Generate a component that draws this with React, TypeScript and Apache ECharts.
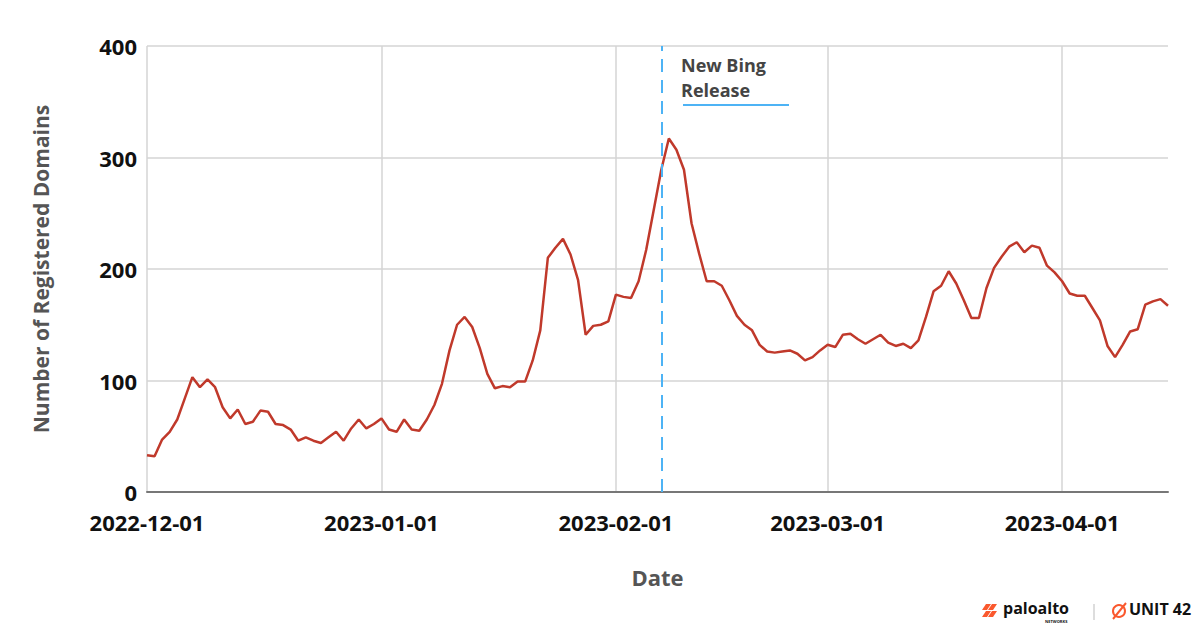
import React, { useEffect, useRef } from 'react';
import * as echarts from 'echarts';

// daily counts, starting 2022-12-01
const START_DATE = '2022-12-01';
const domainCounts = [
  33, 32, 47, 54, 65, 84, 103, 94, 101, 94, 76, 66, 74, 61, 63, 73, 72, 61, 60, 56,
  46, 49, 46, 44, 49, 54, 46, 57, 65, 57, 61, 66, 56, 54,
  65, 56, 55, 65, 78, 97, 127, 150, 157, 148, 129, 106, 93, 95, 94, 99, 99, 118,
  145, 210, 219, 227, 213, 190, 141, 149, 150, 153,
  177, 175, 174, 189, 217, 253, 289, 317, 307, 289, 241, 214, 189, 189, 185, 172,
  158, 150, 145, 132, 126, 125, 126, 127, 124, 118, 121, 127, 132, 130,
  141, 142, 137, 133, 137, 141, 134, 131, 133, 129, 136, 157, 180, 185, 198, 187,
  172, 156, 156, 183, 201, 211, 220, 224, 215, 221, 219, 203, 197, 189, 178, 176,
  176, 165, 154, 131, 121, 132, 144, 146, 168, 171, 173, 167,
];
const releaseDate = '2023-02-07';
const releaseLabel = ['New Bing', 'Release'];
const yTicks = [0, 100, 200, 300, 400];

const pad = (n: number) => String(n).padStart(2, '0');
const dates: string[] = domainCounts.map((_, i) => {
  const d = new Date(START_DATE + 'T00:00:00Z');
  d.setUTCDate(d.getUTCDate() + i);
  return `${d.getUTCFullYear()}-${pad(d.getUTCMonth() + 1)}-${pad(d.getUTCDate())}`;
});

const FONT = '"Open Sans", Lato, sans-serif';
const isMonthStart = (_: number, v: string) => v.endsWith('-01');

const App: React.FC = () => {
  const chartRef = useRef<HTMLDivElement>(null);

  useEffect(() => {
    if (!chartRef.current) return;
    const chart = echarts.init(chartRef.current, null, { renderer: 'svg' });

    chart.setOption({
      animation: false,
      backgroundColor: '#fff',
      grid: { left: 147, right: 32, top: 46, bottom: 137 },
      xAxis: {
        type: 'category',
        data: dates,
        boundaryGap: false,
        name: 'Date',
        nameLocation: 'middle',
        nameGap: 74,
        nameTextStyle: { fontFamily: FONT, fontSize: 22, fontWeight: 'bold', color: '#555' },
        axisLine: { lineStyle: { color: '#777', width: 2 } },
        axisTick: { show: false },
        axisLabel: {
          interval: isMonthStart,
          margin: 19,
          fontFamily: FONT,
          fontSize: 22,
          fontWeight: 'bold',
          color: '#111',
        },
        splitLine: {
          show: true,
          interval: isMonthStart,
          lineStyle: { color: '#d4d4d4', width: 1.5 },
        },
      },
      yAxis: {
        type: 'value',
        min: yTicks[0],
        max: yTicks[yTicks.length - 1],
        interval: 100,
        name: 'Number of Registered Domains',
        nameLocation: 'middle',
        nameGap: 96,
        nameTextStyle: { fontFamily: FONT, fontSize: 21, fontWeight: 'bold', color: '#555' },
        axisLine: { show: false },
        axisTick: { show: false },
        axisLabel: {
          margin: 10,
          fontFamily: FONT,
          fontSize: 22,
          fontWeight: 'bold',
          color: '#111',
        },
        splitLine: { lineStyle: { color: '#d4d4d4', width: 1.5 } },
      },
      series: [
        {
          type: 'line',
          data: domainCounts,
          showSymbol: false,
          lineStyle: { color: '#c0392b', width: 2.5 },
          itemStyle: { color: '#c0392b' },
          markLine: {
            silent: true,
            symbol: 'none',
            label: { show: false },
            lineStyle: { color: '#4db3f5', type: [13, 8], width: 2 },
            data: [{ xAxis: releaseDate }],
          },
        },
      ],
      graphic: [
        {
          type: 'text',
          left: 681,
          top: 56,
          style: {
            text: releaseLabel[0],
            fontFamily: FONT,
            fontSize: 18,
            fontWeight: 'bold',
            fill: '#444',
          },
        },
        {
          type: 'text',
          left: 681,
          top: 81,
          style: {
            text: releaseLabel[1],
            fontFamily: FONT,
            fontSize: 18,
            fontWeight: 'bold',
            fill: '#444',
          },
        },
        {
          type: 'line',
          shape: { x1: 683, y1: 105, x2: 789, y2: 105 },
          style: { stroke: '#4db3f5', lineWidth: 2 },
        },
        // footer logos
        {
          type: 'group',
          left: 982,
          top: 600,
          children: [
            { type: 'polygon', shape: { points: [[4, 0], [9, 0], [5, 6], [0, 6]] }, style: { fill: '#fa582d' } },
            { type: 'polygon', shape: { points: [[10, 0], [15, 0], [11, 6], [6, 6]] }, style: { fill: '#fa582d' } },
            { type: 'polygon', shape: { points: [[4, 7], [9, 7], [5, 13], [0, 13]] }, style: { fill: '#fa582d' } },
            { type: 'polygon', shape: { points: [[10, 7], [15, 7], [11, 13], [6, 13]] }, style: { fill: '#fa582d' } },
            {
              type: 'text',
              x: 21,
              y: -4,
              style: { text: 'paloalto', fontFamily: FONT, fontSize: 16, fontWeight: 'bold', fill: '#111' },
            },
            {
              type: 'text',
              x: 63,
              y: 15,
              style: { text: 'NETWORKS', fontFamily: FONT, fontSize: 4, fontWeight: 'bold', fill: '#111' },
            },
            { type: 'line', shape: { x1: 112, y1: 0, x2: 112, y2: 16 }, style: { stroke: '#bbb', lineWidth: 1 } },
            { type: 'circle', shape: { cx: 137, cy: 7, r: 6 }, style: { fill: 'none', stroke: '#fa582d', lineWidth: 2 } },
            { type: 'line', shape: { x1: 131, y1: 15, x2: 144, y2: -1 }, style: { stroke: '#fa582d', lineWidth: 2 } },
            {
              type: 'text',
              x: 147,
              y: -3,
              style: { text: 'UNIT 42', fontFamily: FONT, fontSize: 16, fontWeight: 'bold', fill: '#111' },
            },
          ],
        },
      ],
    });

    return () => {
      chart.dispose();
    };
  }, []);

  return (
    <div
      ref={chartRef}
      style={{ position: 'absolute', left: 0, top: 0, width: 1200, height: 629 }}
    />
  );
};

export default App;
